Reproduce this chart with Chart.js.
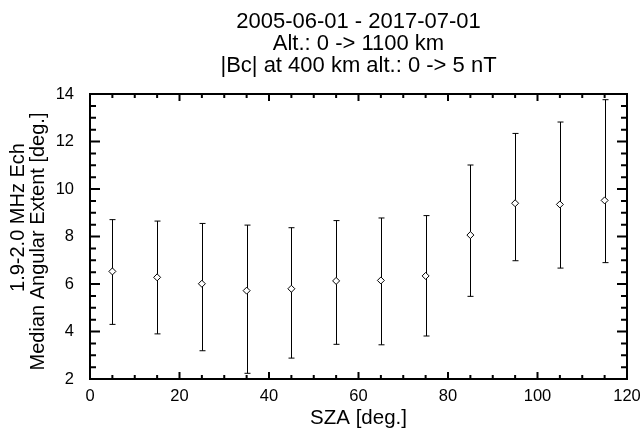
<!DOCTYPE html>
<html>
<head>
<meta charset="utf-8">
<script src="https://cdn.jsdelivr.net/npm/chart.js@4.4.1/dist/chart.umd.min.js"></script>
<style>
  body { margin: 0; background: #fff; }
  canvas { display: block; }
</style>
</head>
<body>
<canvas id="graficoExtensao" width="644" height="435"></canvas>
<script>
// dados
const sza = [5, 15, 25, 35, 45, 55, 65, 75, 85, 95, 105, 115];
const mediana = [6.53, 6.28, 6.01, 5.72, 5.80, 6.13, 6.15, 6.34, 8.06, 9.40, 9.35, 9.52];
const limiteInf = [4.30, 3.90, 3.19, 2.24, 2.88, 3.46, 3.44, 3.81, 5.48, 6.98, 6.67, 6.90];
const limiteSup = [8.71, 8.65, 8.55, 8.48, 8.37, 8.67, 8.78, 8.88, 11.01, 12.34, 12.82, 13.76];
const xTicks = [0, 20, 40, 60, 80, 100, 120];
const yTicks = [2, 4, 6, 8, 10, 12, 14];
const titulo = ["2005-06-01 - 2017-07-01", "Alt.: 0 -> 1100 km", "|Bc| at 400 km alt.: 0 -> 5 nT"];
const tituloY = ["1.9-2.0 MHz Ech", "Median Angular Extent [deg.]"];

const fonte = "'Liberation Sans', Arial, Helvetica, sans-serif";

// barras de erro (mínimo / máximo)
const barrasErro = {
    id: "barrasErro",
    beforeDatasetsDraw(chart) {
        const { ctx, scales: { x, y } } = chart;
        ctx.save();
        ctx.strokeStyle = "#000";
        ctx.lineWidth = 1;
        sza.forEach((v, i) => {
            const px = Math.round(x.getPixelForValue(v)) + 0.5;
            const topo = y.getPixelForValue(limiteSup[i]);
            const base = y.getPixelForValue(limiteInf[i]);
            ctx.beginPath();
            ctx.moveTo(px, topo);
            ctx.lineTo(px, base);
            ctx.moveTo(px - 3, topo);
            ctx.lineTo(px + 3, topo);
            ctx.moveTo(px - 3, base);
            ctx.lineTo(px + 3, base);
            ctx.stroke();
        });
        ctx.restore();
    }
};

// moldura com ticks para dentro (estilo IDL) + título do eixo y em duas linhas
const moldura = {
    id: "moldura",
    afterDraw(chart) {
        const { ctx, chartArea: a, scales: { x, y } } = chart;
        ctx.save();
        ctx.strokeStyle = "#000";
        ctx.lineWidth = 2;
        ctx.strokeRect(a.left, a.top, a.right - a.left, a.bottom - a.top);
        ctx.beginPath();
        for (let v = 0; v <= 120; v += 5) {
            const px = x.getPixelForValue(v);
            const len = v % 20 === 0 ? 7 : 4;
            ctx.moveTo(px, a.bottom);
            ctx.lineTo(px, a.bottom - len);
            ctx.moveTo(px, a.top);
            ctx.lineTo(px, a.top + len);
        }
        for (let v = 2; v <= 14; v += 0.5) {
            const py = y.getPixelForValue(v);
            const len = v % 2 === 0 ? 10 : 6;
            ctx.moveTo(a.left, py);
            ctx.lineTo(a.left + len, py);
            ctx.moveTo(a.right, py);
            ctx.lineTo(a.right - len, py);
        }
        ctx.stroke();

        const meio = (a.top + a.bottom) / 2;
        ctx.fillStyle = "#000";
        ctx.font = "20px " + fonte;
        ctx.textAlign = "center";
        ctx.textBaseline = "middle";
        [[18, meio - 19], [38, meio + 5]].forEach(([tx, ty], i) => {
            ctx.save();
            ctx.translate(tx, ty);
            ctx.rotate(-Math.PI / 2);
            ctx.fillText(tituloY[i], 0, 0);
            ctx.restore();
        });
        ctx.restore();
    }
};

const ctx = document.getElementById("graficoExtensao").getContext("2d");
new Chart(ctx, {
    type: "scatter",
    data: {
        datasets: [{
            data: sza.map((v, i) => ({ x: v, y: mediana[i] })),
            pointStyle: "rectRot",
            pointRadius: 3.5,
            pointBorderWidth: 1,
            pointBackgroundColor: "#fff",
            pointBorderColor: "#000",
            showLine: false
        }]
    },
    options: {
        responsive: false,
        animation: false,
        devicePixelRatio: 1,
        layout: { padding: { left: 0, right: 17, top: 0, bottom: 0 } },
        plugins: {
            legend: { display: false },
            tooltip: { enabled: false },
            title: {
                display: true,
                fullSize: false,
                text: titulo,
                color: "#000",
                font: { family: fonte, size: 22, weight: "normal", lineHeight: "22px" },
                padding: { top: 11, bottom: 17 }
            }
        },
        scales: {
            x: {
                type: "linear",
                min: 0,
                max: 120,
                afterBuildTicks: scale => { scale.ticks = xTicks.map(v => ({ value: v })); },
                afterFit: scale => { scale.height = 56; },
                grid: { display: false },
                border: { display: false },
                ticks: { color: "#000", font: { family: fonte, size: 16.5 }, padding: 0 },
                title: {
                    display: true,
                    text: "SZA [deg.]",
                    color: "#000",
                    font: { family: fonte, size: 20.5 },
                    padding: { top: 0, bottom: 4 }
                }
            },
            y: {
                type: "linear",
                min: 2,
                max: 14,
                afterBuildTicks: scale => { scale.ticks = yTicks.map(v => ({ value: v })); },
                afterFit: scale => { scale.width = 90; },
                grid: { display: false },
                border: { display: false },
                ticks: { color: "#000", font: { family: fonte, size: 16.5 }, padding: 8 },
                title: { display: false }
            }
        }
    },
    plugins: [barrasErro, moldura]
});
</script>
</body>
</html>
